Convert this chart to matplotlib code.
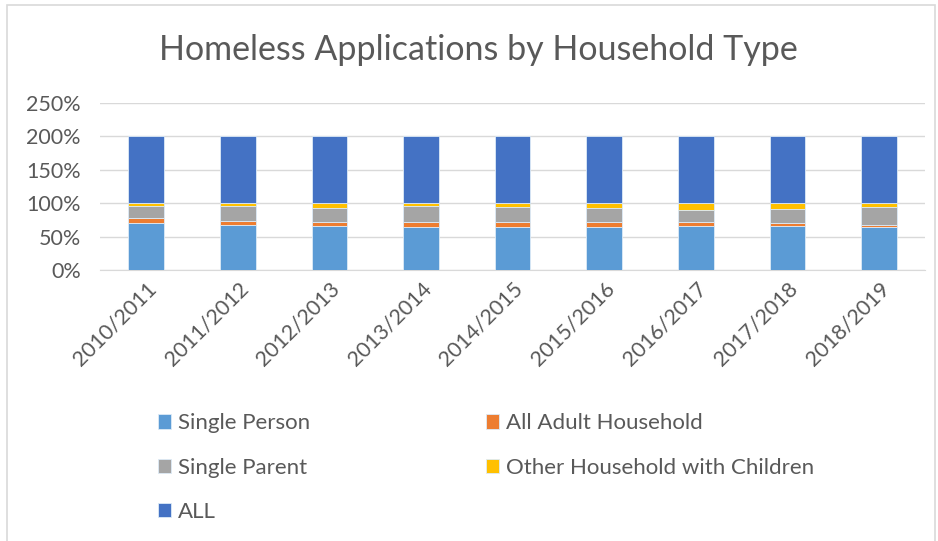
import matplotlib.pyplot as plt
import numpy as np
from matplotlib.patches import Rectangle
from matplotlib.ticker import FuncFormatter

plt.rcParams['font.family'] = ['Lato', 'DejaVu Sans']

years = ['2010/2011', '2011/2012', '2012/2013', '2013/2014', '2014/2015',
         '2015/2016', '2016/2017', '2017/2018', '2018/2019']
single_person = [70.5, 67.7, 65.7, 63.6, 63.6, 64.1, 66.2, 65.2, 63.6]
all_adult = [7.5, 5.5, 5.5, 8.6, 7.6, 7.1, 6.0, 4.5, 4.1]
single_parent = [17.5, 22.3, 21.7, 23.3, 23.2, 21.7, 17.7, 21.7, 26.7]
other_children = [4.5, 4.5, 7.1, 4.5, 5.6, 7.1, 10.1, 8.6, 5.6]
all_total = [100, 100, 100, 100, 100, 100, 100, 100, 100]

series = [
    ('Single Person', single_person, '#5B9BD5'),
    ('All Adult Household', all_adult, '#ED7D31'),
    ('Single Parent', single_parent, '#A5A5A5'),
    ('Other Household with Children', other_children, '#FFC000'),
    ('ALL', all_total, '#4472C4'),
]

fig = plt.figure(figsize=(9.38, 5.41), dpi=100)
ax = fig.add_axes([0.107, 0.501, 0.879, 0.309])

x = np.arange(len(years))
bottom = np.zeros(len(years))
handles = {}
for name, vals, col in series:
    b = ax.bar(x, vals, 0.39, bottom=bottom, color=col, edgecolor='#DDEBF7',
               linewidth=0.6, label=name, zorder=3)
    handles[name] = b
    bottom += np.array(vals)

ax.set_xlim(-0.5, len(years) - 0.5)
ax.set_ylim(0, 250)
ax.set_yticks(np.arange(0, 251, 50))
ax.yaxis.set_major_formatter(FuncFormatter(lambda v, p: f'{v:.0f}%'))
ax.grid(axis='y', color='#D9D9D9', linewidth=1, zorder=0)
for s in ['top', 'right', 'left']:
    ax.spines[s].set_visible(False)
ax.spines['bottom'].set_color('#D9D9D9')
ax.tick_params(axis='both', length=0, colors='#595959', labelsize=15.5)
ax.tick_params(axis='y', pad=14)
ax.tick_params(axis='x', pad=6)
ax.set_xticks(x)
ax.set_xticklabels(years, rotation=45, ha='right', rotation_mode='anchor')

fig.text(0.51, 0.907, 'Homeless Applications by Household Type', ha='center',
         va='center', fontsize=24.5, color='#595959')

order = ['Single Person', 'Single Parent', 'ALL', 'All Adult Household',
         'Other Household with Children']
leg = fig.legend([handles[n] for n in order], order, ncol=2, loc='upper left',
                 bbox_to_anchor=(0.147, 0.273), frameon=False, fontsize=16,
                 handlelength=0.6, handleheight=0.6, handletextpad=0.3,
                 columnspacing=7.9, labelspacing=1.1, labelcolor='#595959')

fig.patches.append(Rectangle((7 / 938, -0.01), 928 / 938, 1 - 5 / 541 + 0.01,
                             transform=fig.transFigure, fill=False,
                             edgecolor='#D9D9D9', linewidth=1.2))

fig.savefig('out.png', dpi=100)
